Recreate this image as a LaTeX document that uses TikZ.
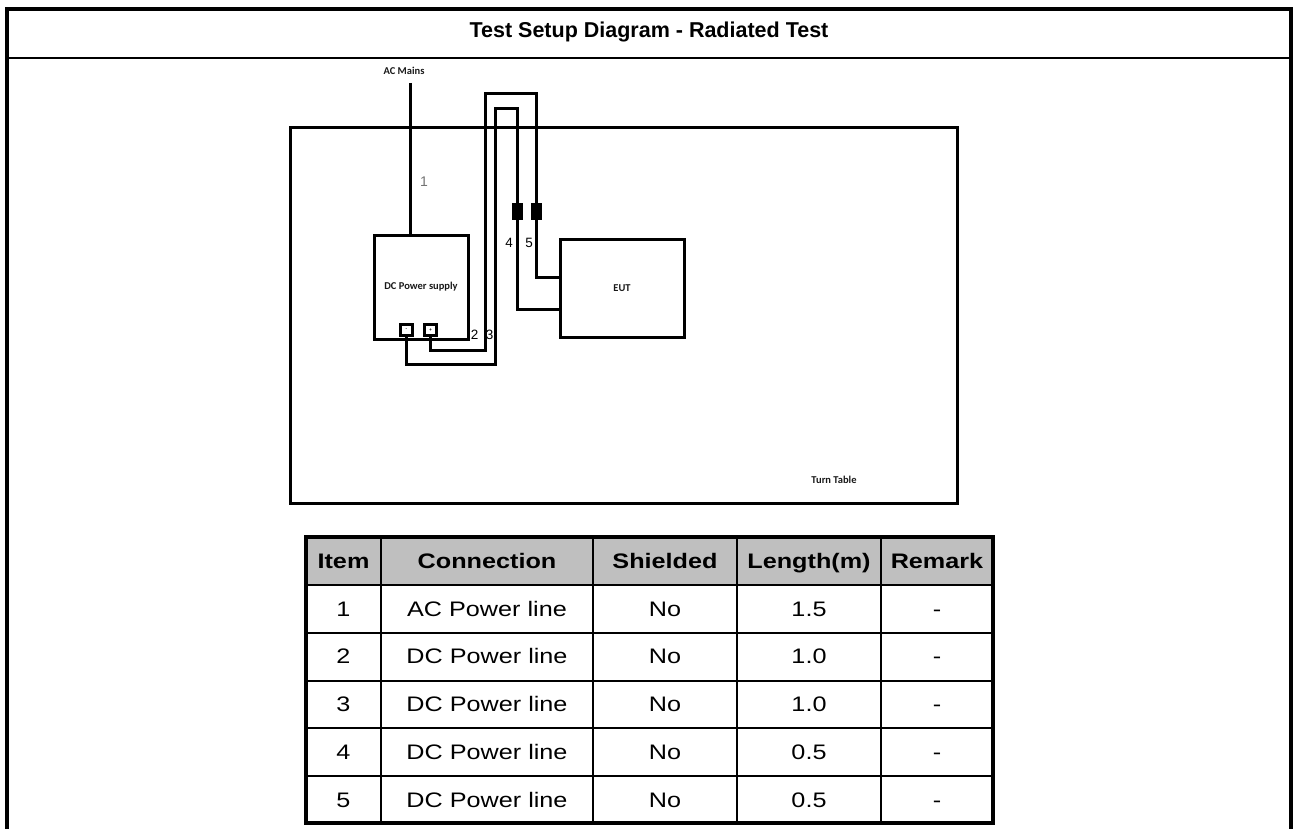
\documentclass[tikz,border=0pt]{standalone}
\usepackage{fontspec}
\setmainfont{Liberation Sans}
\newfontfamily\tabfont[FakeStretch=1.2]{Liberation Sans}
\newfontfamily\calfont{Carlito}
\usetikzlibrary{positioning}

\begin{document}
\begin{tikzpicture}[x=1pt,y=-1pt]
\tikzstyle{every node}+=[inner sep=0pt]
\tikzstyle{wire}=[line width=3pt]
\tikzstyle{unit}=[draw, line width=3pt, rectangle]
\tikzstyle{term}=[draw, line width=3pt, rectangle, minimum width=12pt, minimum height=11pt, font=\calfont\bfseries\fontsize{5}{5}\selectfont]
\tikzstyle{ferrite}=[fill=black, rectangle, minimum width=11pt, minimum height=17pt]
\tikzstyle{lbl}=[font=\calfont\bfseries\fontsize{10.5}{12}\selectfont, text=black!90]
\tikzstyle{num}=[font=\fontsize{13.5}{15}\selectfont]
\tikzstyle{cell}=[font=\tabfont\fontsize{21}{24}\selectfont, text height=15pt, text depth=0pt]
\tikzstyle{head}=[font=\tabfont\bfseries\fontsize{21}{24}\selectfont, text height=15pt, text depth=0pt]
\useasboundingbox (0,0) rectangle (1295,829);
% frame and title
\draw [line width=4pt] (7,829) -- (7,9) -- (1291,9) -- (1291,829);
\draw [line width=2pt] (7,58) -- (1291,58);
\node [font=\bfseries\fontsize{21.5}{24}\selectfont] (title) at (649,32) {Test Setup Diagram - Radiated Test};
% turn table
\node [unit, minimum width=667pt, minimum height=375pt] (turntable) at (623.5,315.5) {};
\node [lbl] (ttlabel) at (834,480) {Turn Table};
% units
\node [unit, minimum width=94pt, minimum height=104pt, lbl] (dc) at (421,287) {DC Power supply};
\node [unit, minimum width=124pt, minimum height=98pt, lbl] (eut) at (622,288) {EUT};
\node [term] (neg) at (406.5,330) {-};
\node [term] (pos) at (430.5,330) {+};
\node [ferrite] (f4) at (517,211.5) {};
\node [ferrite] (f5) at (536.5,211.5) {};
% cables
\node [lbl] (acmains) at (404,71) {AC Mains};
\coordinate (acin) at (410,83);
\draw [wire] (acin) -- (acin |- dc.north);
\coordinate (bend2) at (485,350);
\coordinate (top5) at (536.5,94);
\draw [wire] (pos.south) |- (bend2) |- (top5) -- (f5.north);
\draw [wire] (f5.south) |- ([yshift=11pt]eut.west);
\coordinate (bend3) at (495,364);
\coordinate (top4) at (517,109);
\draw [wire] (neg.south) |- (bend3) |- (top4) -- (f4.north);
\draw [wire] (f4.south) |- ([yshift=-21pt]eut.west);
\node [num, text=black!55, font=\fontsize{14}{16}\selectfont] (n1) at (424,182) {1};
\node [num] (n2) at (474.5,335) {2};
\node [num] (n3) at (489.5,335) {3};
\node [num] (n4) at (509,243) {4};
\node [num] (n5) at (529,243) {5};
% cable table
\fill [black!25] (306,537) rectangle (993,585);
\foreach \y in {585,633,681,728,776}
  \draw [line width=1.5pt] (306,\y) -- (993,\y);
\foreach \x in {381,593,737,881}
  \draw [line width=1.5pt] (\x,537) -- (\x,823);
\draw [line width=3.5pt] (306,537) rectangle (993,823);
\foreach \x/\h [count=\c] in {343.5/Item, 487/Connection, 665/Shielded, 809/Length(m), 937/Remark}
  \node [head] (h\c) at (\x,561) {\h};
\foreach \n/\conn/\len [count=\r] in {1/AC Power line/1.5, 2/DC Power line/1.0, 3/DC Power line/1.0, 4/DC Power line/0.5, 5/DC Power line/0.5} {
  \pgfmathsetmacro\ry{561+47.7*\r}
  \node [cell] (item\r) at (343.5,\ry) {\n};
  \node [cell] (conn\r) at (487,\ry) {\conn};
  \node [cell] (shield\r) at (665,\ry) {No};
  \node [cell] (len\r) at (809,\ry) {\len};
  \node [cell] (rem\r) at (937,\ry) {-};
}
\end{tikzpicture}
\end{document}
